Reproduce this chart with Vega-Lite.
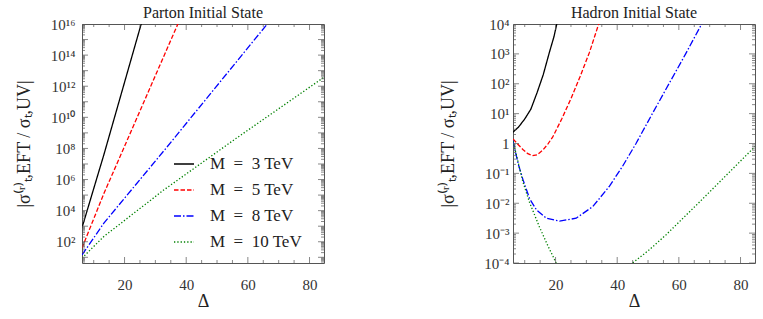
{
  "$schema": "https://vega.github.io/schema/vega-lite/v6.json",
  "padding": {"left": 14, "top": 4, "right": 5, "bottom": 2},
  "bounds": "flush",
  "config": {
    "font": "Liberation Serif",
    "view": {"stroke": "#555", "strokeWidth": 1},
    "axis": {"domain": false, "grid": false, "ticks": false, "tickSize": 0, "labelFont": "Liberation Serif", "labelFontSize": 15, "labelColor": "#333", "titleFont": "Liberation Serif", "titleFontWeight": "normal", "titleColor": "#222", "labelOverlap": false},
    "title": {"font": "Liberation Serif", "fontSize": 16, "fontWeight": "normal", "color": "#222", "offset": -4},
    "tick": {"color": "#555", "thickness": 1}
  },
  "datasets": {
    "xt": [{"t": 10}, {"t": 15}, {"t": 20, "m": 1}, {"t": 25}, {"t": 30}, {"t": 35}, {"t": 40, "m": 1}, {"t": 45}, {"t": 50}, {"t": 55}, {"t": 60, "m": 1}, {"t": 65}, {"t": 70}, {"t": 75}, {"t": 80, "m": 1}],
    "ytL": [
      {"t": 5}, {"t": 6}, {"t": 7}, {"t": 8}, {"t": 9},
      {"t": 10, "m": 1}, {"t": 20}, {"t": 30}, {"t": 40}, {"t": 50}, {"t": 60}, {"t": 70}, {"t": 80}, {"t": 90},
      {"t": 100, "m": 1}, {"t": 200}, {"t": 300}, {"t": 400}, {"t": 500}, {"t": 600}, {"t": 700}, {"t": 800}, {"t": 900},
      {"t": 1e3, "m": 1}, {"t": 2e3}, {"t": 3e3}, {"t": 4e3}, {"t": 5e3}, {"t": 6e3}, {"t": 7e3}, {"t": 8e3}, {"t": 9e3},
      {"t": 1e4, "m": 1}, {"t": 2e4}, {"t": 3e4}, {"t": 4e4}, {"t": 5e4}, {"t": 6e4}, {"t": 7e4}, {"t": 8e4}, {"t": 9e4},
      {"t": 1e5, "m": 1}, {"t": 2e5}, {"t": 3e5}, {"t": 4e5}, {"t": 5e5}, {"t": 6e5}, {"t": 7e5}, {"t": 8e5}, {"t": 9e5},
      {"t": 1e6, "m": 1}, {"t": 2e6}, {"t": 3e6}, {"t": 4e6}, {"t": 5e6}, {"t": 6e6}, {"t": 7e6}, {"t": 8e6}, {"t": 9e6},
      {"t": 1e7, "m": 1}, {"t": 2e7}, {"t": 3e7}, {"t": 4e7}, {"t": 5e7}, {"t": 6e7}, {"t": 7e7}, {"t": 8e7}, {"t": 9e7},
      {"t": 1e8, "m": 1}, {"t": 2e8}, {"t": 3e8}, {"t": 4e8}, {"t": 5e8}, {"t": 6e8}, {"t": 7e8}, {"t": 8e8}, {"t": 9e8},
      {"t": 1e9, "m": 1}, {"t": 2e9}, {"t": 3e9}, {"t": 4e9}, {"t": 5e9}, {"t": 6e9}, {"t": 7e9}, {"t": 8e9}, {"t": 9e9},
      {"t": 1e10, "m": 1}, {"t": 2e10}, {"t": 3e10}, {"t": 4e10}, {"t": 5e10}, {"t": 6e10}, {"t": 7e10}, {"t": 8e10}, {"t": 9e10},
      {"t": 1e11, "m": 1}, {"t": 2e11}, {"t": 3e11}, {"t": 4e11}, {"t": 5e11}, {"t": 6e11}, {"t": 7e11}, {"t": 8e11}, {"t": 9e11},
      {"t": 1e12, "m": 1}, {"t": 2e12}, {"t": 3e12}, {"t": 4e12}, {"t": 5e12}, {"t": 6e12}, {"t": 7e12}, {"t": 8e12}, {"t": 9e12},
      {"t": 1e13, "m": 1}, {"t": 2e13}, {"t": 3e13}, {"t": 4e13}, {"t": 5e13}, {"t": 6e13}, {"t": 7e13}, {"t": 8e13}, {"t": 9e13},
      {"t": 1e14, "m": 1}, {"t": 2e14}, {"t": 3e14}, {"t": 4e14}, {"t": 5e14}, {"t": 6e14}, {"t": 7e14}, {"t": 8e14}, {"t": 9e14},
      {"t": 1e15, "m": 1}, {"t": 2e15}, {"t": 3e15}, {"t": 4e15}, {"t": 5e15}, {"t": 6e15}, {"t": 7e15}, {"t": 8e15}, {"t": 9e15},
      {"t": 1e16, "m": 1}
    ],
    "ytR": [
      {"t": 1e-4, "m": 1}, {"t": 2e-4}, {"t": 3e-4}, {"t": 4e-4}, {"t": 5e-4}, {"t": 6e-4}, {"t": 7e-4}, {"t": 8e-4}, {"t": 9e-4},
      {"t": 1e-3, "m": 1}, {"t": 2e-3}, {"t": 3e-3}, {"t": 4e-3}, {"t": 5e-3}, {"t": 6e-3}, {"t": 7e-3}, {"t": 8e-3}, {"t": 9e-3},
      {"t": 0.01, "m": 1}, {"t": 0.02}, {"t": 0.03}, {"t": 0.04}, {"t": 0.05}, {"t": 0.06}, {"t": 0.07}, {"t": 0.08}, {"t": 0.09},
      {"t": 0.1, "m": 1}, {"t": 0.2}, {"t": 0.3}, {"t": 0.4}, {"t": 0.5}, {"t": 0.6}, {"t": 0.7}, {"t": 0.8}, {"t": 0.9},
      {"t": 1, "m": 1}, {"t": 2}, {"t": 3}, {"t": 4}, {"t": 5}, {"t": 6}, {"t": 7}, {"t": 8}, {"t": 9},
      {"t": 10, "m": 1}, {"t": 20}, {"t": 30}, {"t": 40}, {"t": 50}, {"t": 60}, {"t": 70}, {"t": 80}, {"t": 90},
      {"t": 100, "m": 1}, {"t": 200}, {"t": 300}, {"t": 400}, {"t": 500}, {"t": 600}, {"t": 700}, {"t": 800}, {"t": 900},
      {"t": 1000, "m": 1}, {"t": 2000}, {"t": 3000}, {"t": 4000}, {"t": 5000}, {"t": 6000}, {"t": 7000}, {"t": 8000}, {"t": 9000},
      {"t": 10000, "m": 1}
    ]
  },
  "resolve": {"scale": {"x": "independent", "y": "independent"}, "legend": {"color": "independent", "strokeDash": "independent"}},
  "spacing": 189,
  "hconcat": [
    {
      "title": "Parton Initial State",
      "width": 242,
      "height": 239,
      "layer": [
        {
          "data": {"values": [
            {"D": 6.2, "v": 794.3, "M": "M\u2002=\u20023 TeV"},
            {"D": 13.3, "v": 3.981e7, "M": "M\u2002=\u20023 TeV"},
            {"D": 25.4, "v": 1e16, "M": "M\u2002=\u20023 TeV"},
            {"D": 26, "v": 2.512e16, "M": "M\u2002=\u20023 TeV"},
            {"D": 6.2, "v": 39.81, "M": "M\u2002=\u20025 TeV"},
            {"D": 13.3, "v": 1.259e5, "M": "M\u2002=\u20025 TeV"},
            {"D": 19.7, "v": 1e8, "M": "M\u2002=\u20025 TeV"},
            {"D": 37.3, "v": 1e16, "M": "M\u2002=\u20025 TeV"},
            {"D": 38, "v": 1.995e16, "M": "M\u2002=\u20025 TeV"},
            {"D": 6.2, "v": 14.13, "M": "M\u2002=\u20028 TeV"},
            {"D": 9.5, "v": 125.9, "M": "M\u2002=\u20028 TeV"},
            {"D": 13.3, "v": 1585, "M": "M\u2002=\u20028 TeV"},
            {"D": 33.4, "v": 1e8, "M": "M\u2002=\u20028 TeV"},
            {"D": 66.3, "v": 1e16, "M": "M\u2002=\u20028 TeV"},
            {"D": 67, "v": 1.585e16, "M": "M\u2002=\u20028 TeV"},
            {"D": 6.2, "v": 8.913, "M": "M\u2002=\u200210 TeV"},
            {"D": 9, "v": 31.62, "M": "M\u2002=\u200210 TeV"},
            {"D": 13.3, "v": 218.8, "M": "M\u2002=\u200210 TeV"},
            {"D": 32.8, "v": 2.188e5, "M": "M\u2002=\u200210 TeV"},
            {"D": 55.5, "v": 3.548e8, "M": "M\u2002=\u200210 TeV"},
            {"D": 84.7, "v": 3.802e12, "M": "M\u2002=\u200210 TeV"}
          ]},
          "mark": {"type": "line", "clip": true, "strokeWidth": 1.3},
          "encoding": {
            "x": {"field": "D", "type": "quantitative", "scale": {"domain": [6.2, 84.7], "nice": false, "zero": false},
              "axis": {"values": [20, 40, 60, 80], "labelPadding": 14, "title": "Δ", "titleFontSize": 18, "titlePadding": 0}},
            "y": {"field": "v", "type": "quantitative", "scale": {"type": "log", "domain": [4.3, 1e16], "nice": false},
              "axis": {"values": [100, 1e4, 1e6, 1e8, 1e10, 1e12, 1e14, 1e16], "labelExpr": "'10' + (round(log(datum.value)/LN10) >= 10 ? substring('⁰¹²³⁴⁵⁶⁷⁸⁹', floor(round(log(datum.value)/LN10)/10), floor(round(log(datum.value)/LN10)/10) + 1) : '') + substring('⁰¹²³⁴⁵⁶⁷⁸⁹', round(log(datum.value)/LN10) % 10, round(log(datum.value)/LN10) % 10 + 1)", "labelPadding": 7, "title": "|σ⁽ʳ⁾ₜ,EFT / σₜ,UV|", "titleFontSize": 18, "titlePadding": 17}},
            "color": {"field": "M", "type": "nominal", "scale": {"domain": ["M\u2002=\u20023 TeV", "M\u2002=\u20025 TeV", "M\u2002=\u20028 TeV", "M\u2002=\u200210 TeV"], "range": ["#000000", "#ff0000", "#0000ff", "#008000"]},
              "legend": {"title": null, "orient": "none", "legendX": 91, "legendY": 129, "symbolType": "stroke", "symbolSize": 400, "symbolStrokeWidth": 1.5, "labelFont": "Liberation Serif", "labelFontSize": 17, "labelColor": "#222", "rowPadding": 7, "labelOffset": 15, "padding": 0}},
            "strokeDash": {"field": "M", "type": "nominal", "scale": {"domain": ["M\u2002=\u20023 TeV", "M\u2002=\u20025 TeV", "M\u2002=\u20028 TeV", "M\u2002=\u200210 TeV"], "range": [[1, 0], [4.5, 2], [7, 2, 1.5, 2], [1.3, 2]]},
              "legend": {"title": null, "orient": "none", "legendX": 91, "legendY": 129, "symbolType": "stroke", "symbolSize": 400, "symbolStrokeWidth": 1.5, "labelFont": "Liberation Serif", "labelFontSize": 17, "labelColor": "#222", "rowPadding": 7, "labelOffset": 15, "padding": 0}}
          }
        },
        {
          "data": {"name": "ytL"},
          "mark": {"type": "tick", "orient": "horizontal", "clip": true},
          "encoding": {
            "y": {"field": "t", "type": "quantitative"},
            "x": {"datum": 6.2, "type": "quantitative"},
            "size": {"condition": {"test": "datum.m == 1", "value": 12}, "value": 6}
          }
        },
        {
          "data": {"name": "ytL"},
          "mark": {"type": "tick", "orient": "horizontal", "clip": true},
          "encoding": {
            "y": {"field": "t", "type": "quantitative"},
            "x": {"datum": 84.7, "type": "quantitative"},
            "size": {"condition": {"test": "datum.m == 1", "value": 12}, "value": 6}
          }
        },
        {
          "data": {"name": "xt"},
          "mark": {"type": "tick", "orient": "vertical", "clip": true},
          "encoding": {
            "x": {"field": "t", "type": "quantitative"},
            "y": {"datum": 4.3, "type": "quantitative"},
            "size": {"condition": {"test": "datum.m == 1", "value": 12}, "value": 6}
          }
        },
        {
          "data": {"name": "xt"},
          "mark": {"type": "tick", "orient": "vertical", "clip": true},
          "encoding": {
            "x": {"field": "t", "type": "quantitative"},
            "y": {"datum": 1e16, "type": "quantitative"},
            "size": {"condition": {"test": "datum.m == 1", "value": 12}, "value": 6}
          }
        }
      ]
    },
    {
      "title": "Hadron Initial State",
      "width": 242,
      "height": 239,
      "layer": [
        {
          "data": {"values": [
            {"D": 6.2, "v": 2.399, "M": "M\u2002=\u20023 TeV"},
            {"D": 8, "v": 3.548, "M": "M\u2002=\u20023 TeV"},
            {"D": 10, "v": 6.607, "M": "M\u2002=\u20023 TeV"},
            {"D": 12, "v": 14.13, "M": "M\u2002=\u20023 TeV"},
            {"D": 14, "v": 50.12, "M": "M\u2002=\u20023 TeV"},
            {"D": 15, "v": 100, "M": "M\u2002=\u20023 TeV"},
            {"D": 16, "v": 199.5, "M": "M\u2002=\u20023 TeV"},
            {"D": 18, "v": 1122, "M": "M\u2002=\u20023 TeV"},
            {"D": 19.5, "v": 3802, "M": "M\u2002=\u20023 TeV"},
            {"D": 20.4, "v": 10000, "M": "M\u2002=\u20023 TeV"},
            {"D": 21, "v": 22387, "M": "M\u2002=\u20023 TeV"},
            {"D": 6.2, "v": 1.413, "M": "M\u2002=\u20025 TeV"},
            {"D": 8, "v": 0.8913, "M": "M\u2002=\u20025 TeV"},
            {"D": 9.4, "v": 0.631, "M": "M\u2002=\u20025 TeV"},
            {"D": 11, "v": 0.4571, "M": "M\u2002=\u20025 TeV"},
            {"D": 12.5, "v": 0.389, "M": "M\u2002=\u20025 TeV"},
            {"D": 14, "v": 0.4169, "M": "M\u2002=\u20025 TeV"},
            {"D": 15.9, "v": 0.6026, "M": "M\u2002=\u20025 TeV"},
            {"D": 17.5, "v": 0.955, "M": "M\u2002=\u20025 TeV"},
            {"D": 19.1, "v": 1.66, "M": "M\u2002=\u20025 TeV"},
            {"D": 22, "v": 6.607, "M": "M\u2002=\u20025 TeV"},
            {"D": 25, "v": 31.62, "M": "M\u2002=\u20025 TeV"},
            {"D": 28, "v": 177.8, "M": "M\u2002=\u20025 TeV"},
            {"D": 31, "v": 1122, "M": "M\u2002=\u20025 TeV"},
            {"D": 34, "v": 10000, "M": "M\u2002=\u20025 TeV"},
            {"D": 34.6, "v": 15849, "M": "M\u2002=\u20025 TeV"},
            {"D": 6.2, "v": 1.259, "M": "M\u2002=\u20028 TeV"},
            {"D": 7.1, "v": 0.4677, "M": "M\u2002=\u20028 TeV"},
            {"D": 8, "v": 0.1905, "M": "M\u2002=\u20028 TeV"},
            {"D": 9.4, "v": 0.0631, "M": "M\u2002=\u20028 TeV"},
            {"D": 11.6, "v": 0.01413, "M": "M\u2002=\u20028 TeV"},
            {"D": 13.8, "v": 0.006026, "M": "M\u2002=\u20028 TeV"},
            {"D": 17, "v": 0.003162, "M": "M\u2002=\u20028 TeV"},
            {"D": 21.3, "v": 0.002512, "M": "M\u2002=\u20028 TeV"},
            {"D": 26.7, "v": 0.003162, "M": "M\u2002=\u20028 TeV"},
            {"D": 32.1, "v": 0.007762, "M": "M\u2002=\u20028 TeV"},
            {"D": 37.4, "v": 0.03631, "M": "M\u2002=\u20028 TeV"},
            {"D": 41.7, "v": 0.1698, "M": "M\u2002=\u20028 TeV"},
            {"D": 46.1, "v": 1, "M": "M\u2002=\u20028 TeV"},
            {"D": 51.4, "v": 10, "M": "M\u2002=\u20028 TeV"},
            {"D": 56.8, "v": 100, "M": "M\u2002=\u20028 TeV"},
            {"D": 62.2, "v": 1000, "M": "M\u2002=\u20028 TeV"},
            {"D": 67.4, "v": 10000, "M": "M\u2002=\u20028 TeV"},
            {"D": 68, "v": 13183, "M": "M\u2002=\u20028 TeV"},
            {"D": 6.2, "v": 1.202, "M": "M\u2002=\u200210 TeV"},
            {"D": 9.4, "v": 0.05248, "M": "M\u2002=\u200210 TeV"},
            {"D": 11.6, "v": 0.01047, "M": "M\u2002=\u200210 TeV"},
            {"D": 14.8, "v": 0.001585, "M": "M\u2002=\u200210 TeV"},
            {"D": 17.5, "v": 0.0003802, "M": "M\u2002=\u200210 TeV"},
            {"D": 20.2, "v": 0.0001, "M": "M\u2002=\u200210 TeV"},
            {"D": 21.5, "v": 0.00005623, "M": "M\u2002=\u200210 TeV"},
            {"D": 44, "v": 0.0000631, "M": "M\u2002=\u200210 TeV"},
            {"D": 45, "v": 0.0001, "M": "M\u2002=\u200210 TeV"},
            {"D": 50.4, "v": 0.0002754, "M": "M\u2002=\u200210 TeV"},
            {"D": 55.8, "v": 0.000871, "M": "M\u2002=\u200210 TeV"},
            {"D": 66, "v": 0.009333, "M": "M\u2002=\u200210 TeV"},
            {"D": 75.7, "v": 0.09333, "M": "M\u2002=\u200210 TeV"},
            {"D": 84.7, "v": 0.7943, "M": "M\u2002=\u200210 TeV"}
          ]},
          "mark": {"type": "line", "clip": true, "strokeWidth": 1.3},
          "encoding": {
            "x": {"field": "D", "type": "quantitative", "scale": {"domain": [6.2, 84.7], "nice": false, "zero": false},
              "axis": {"values": [20, 40, 60, 80], "labelPadding": 14, "title": "Δ", "titleFontSize": 18, "titlePadding": 0}},
            "y": {"field": "v", "type": "quantitative", "scale": {"type": "log", "domain": [0.0001, 10000], "nice": false},
              "axis": {"values": [0.0001, 0.001, 0.01, 0.1, 1, 10, 100, 1000, 10000], "labelExpr": "round(log(datum.value)/LN10) === 0 ? '1' : '10' + (round(log(datum.value)/LN10) < 0 ? '⁻' : '') + substring('⁰¹²³⁴⁵⁶⁷⁸⁹', abs(round(log(datum.value)/LN10)), abs(round(log(datum.value)/LN10)) + 1)", "labelPadding": 4, "title": "|σ⁽ʳ⁾ₜ,EFT / σₜ,UV|", "titleFontSize": 18, "titlePadding": 26}},
            "color": {"field": "M", "type": "nominal", "scale": {"domain": ["M\u2002=\u20023 TeV", "M\u2002=\u20025 TeV", "M\u2002=\u20028 TeV", "M\u2002=\u200210 TeV"], "range": ["#000000", "#ff0000", "#0000ff", "#008000"]}, "legend": null},
            "strokeDash": {"field": "M", "type": "nominal", "scale": {"domain": ["M\u2002=\u20023 TeV", "M\u2002=\u20025 TeV", "M\u2002=\u20028 TeV", "M\u2002=\u200210 TeV"], "range": [[1, 0], [4.5, 2], [7, 2, 1.5, 2], [1.3, 2]]}, "legend": null}
          }
        },
        {
          "data": {"name": "ytR"},
          "mark": {"type": "tick", "orient": "horizontal", "clip": true},
          "encoding": {
            "y": {"field": "t", "type": "quantitative"},
            "x": {"datum": 6.2, "type": "quantitative"},
            "size": {"condition": {"test": "datum.m == 1", "value": 12}, "value": 6}
          }
        },
        {
          "data": {"name": "ytR"},
          "mark": {"type": "tick", "orient": "horizontal", "clip": true},
          "encoding": {
            "y": {"field": "t", "type": "quantitative"},
            "x": {"datum": 84.7, "type": "quantitative"},
            "size": {"condition": {"test": "datum.m == 1", "value": 12}, "value": 6}
          }
        },
        {
          "data": {"name": "xt"},
          "mark": {"type": "tick", "orient": "vertical", "clip": true},
          "encoding": {
            "x": {"field": "t", "type": "quantitative"},
            "y": {"datum": 0.0001, "type": "quantitative"},
            "size": {"condition": {"test": "datum.m == 1", "value": 12}, "value": 6}
          }
        },
        {
          "data": {"name": "xt"},
          "mark": {"type": "tick", "orient": "vertical", "clip": true},
          "encoding": {
            "x": {"field": "t", "type": "quantitative"},
            "y": {"datum": 10000, "type": "quantitative"},
            "size": {"condition": {"test": "datum.m == 1", "value": 12}, "value": 6}
          }
        }
      ]
    }
  ]
}
